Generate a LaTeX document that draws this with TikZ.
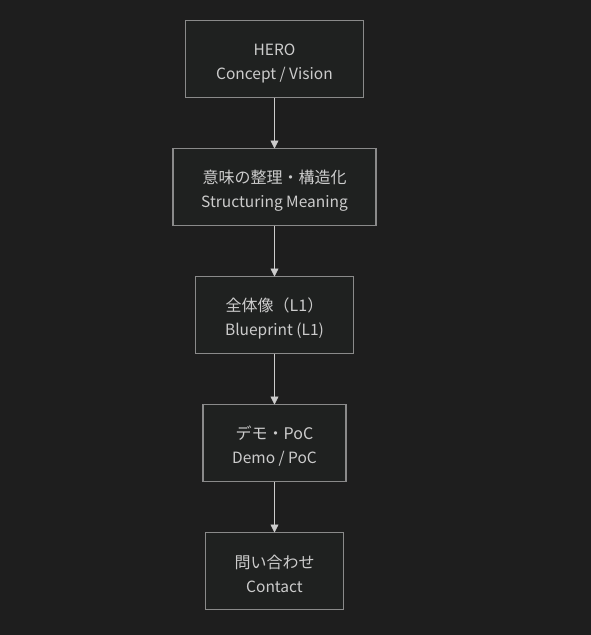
\documentclass[tikz,border=0pt]{standalone}
\usepackage{fontspec}
\setmainfont{Noto Sans CJK JP}
\usetikzlibrary{positioning,arrows.meta}
\definecolor{bgdark}{HTML}{1E1E1E}
\definecolor{boxfill}{HTML}{1F2120}
\definecolor{boxline}{HTML}{8A8A8A}
\definecolor{txtgray}{HTML}{CCCCCC}
\tikzset{
  stage/.style={draw=boxline, fill=boxfill, line width=1.2pt, text=txtgray, align=center,
    minimum height=77pt, inner sep=0pt, outer sep=0pt, font=\fontsize{15.5}{24}\selectfont},
  flow/.style={draw=txtgray, line width=0.8pt, -{Triangle[width=8pt,length=8pt]}}
}
\newcommand{\jt}[1]{{\fontsize{16}{24}\selectfont\rule{0pt}{20pt}#1}}

\begin{document}
\begin{tikzpicture}[x=1pt, y=-1pt, node distance=51pt]
                \fill[bgdark] (0,0) rectangle (591,635);
                \useasboundingbox (0,0) rectangle (591,635);
                \node[stage, minimum width=178pt] (hero) at (274.5,59) {\rule{0pt}{20pt}HERO\\Concept / Vision};
                \node[stage, minimum width=203pt, below=of hero] (meaning) {\jt{意味の整理・構造化}\\Structuring Meaning};
                \node[stage, minimum width=158pt, below=of meaning] (blueprint) {\jt{全体像（L1）}\\Blueprint (L1)};
                \node[stage, minimum width=143pt, below=of blueprint] (demo) {\jt{デモ・PoC}\\Demo / PoC};
                \node[stage, minimum width=138pt, below=of demo] (contact) {\jt{問い合わせ}\\Contact};
                \draw[flow](hero.south) -- (meaning.north);
                \draw[flow](meaning.south) -- (blueprint.north);
                \draw[flow](blueprint.south) -- (demo.north);
                \draw[flow](demo.south) -- (contact.north);
            \end{tikzpicture}
\end{document}
